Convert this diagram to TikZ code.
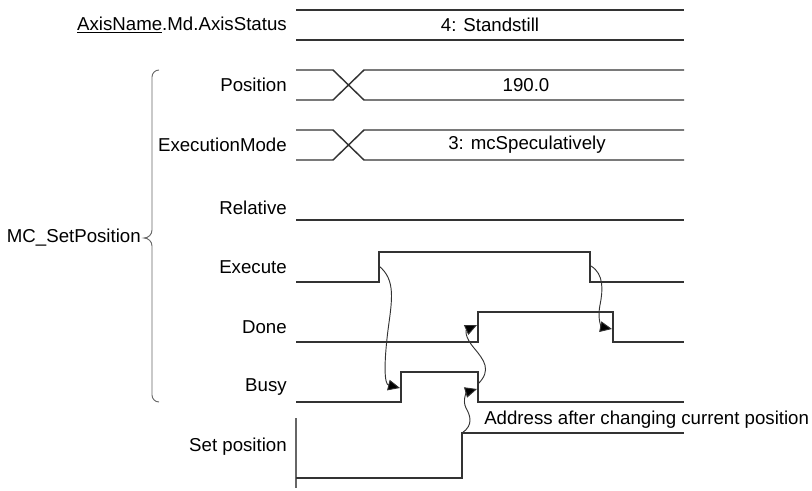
\documentclass[tikz,border=0pt]{standalone}
\usepackage{fontspec}
\setmainfont{Liberation Sans}
\usetikzlibrary{arrows.meta}
\definecolor{sig}{HTML}{333333}
\definecolor{gry}{HTML}{666666}
\begin{document}
\begin{tikzpicture}[x=0.75pt,y=-0.75pt,
  every node/.style={font=\fontsize{14}{17}\selectfont, text=black, inner sep=0pt},
  lbl/.style={anchor=east},
  sigline/.style={draw=sig, line width=1.1pt},
  evarrow/.style={draw=sig, line width=0.7pt, -{Triangle[length=9pt,width=8pt,fill=black]}}]
\useasboundingbox (0,0) rectangle (812,490);
% labels
\node[lbl] (lax) at (287,25) {\underline{AxisName}.Md.AxisStatus};
\node[lbl] (lpos) at (287,85) {Position};
\node[lbl] (lmode) at (287,145) {ExecutionMode};
\node[lbl] (lrel) at (287,208) {Relative};
\node[lbl] (lexe) at (287,267) {Execute};
\node[lbl] (ldone) at (287,327) {Done};
\node[lbl] (lbusy) at (287,387) {Busy};
\node[lbl] (lset) at (287,447) {Set position};
\node[lbl] (lmc) at (141,238) {MC\_SetPosition};
% brace
\draw[gry, line width=0.7pt] (159,70) to[out=180,in=90] (152,77) -- (152,230)
  to[out=-90,in=0] (144,238) to[out=0,in=90] (152,246) -- (152,395)
  to[out=-90,in=180] (159,402);
% AxisStatus
\draw[sigline] (296,10) -- (684,10);
\draw[sigline] (296,40) -- (684,40);
\node (vax) at (490,25) {4: Standstill};
% Position
\draw[sigline] (296,70) -- (333,70) -- (364,100) -- (684,100);
\draw[sigline] (296,100) -- (333,100) -- (364,70) -- (684,70);
\node (vpos) at (526,85) {190.0};
% ExecutionMode
\draw[sigline] (296,130) -- (333,130) -- (364,160) -- (684,160);
\draw[sigline] (296,160) -- (333,160) -- (364,130) -- (684,130);
\node (vmode) at (527,145) {3: mcSpeculatively};
% Relative
\draw[sigline] (296,220) -- (684,220);
% Execute
\draw[sigline] (296,282) -- (379,282) -- (379,252) -- (590,252) -- (590,282) -- (684,282);
% Done
\draw[sigline] (296,342) -- (478,342) -- (478,312) -- (613,312) -- (613,342) -- (684,342);
% Busy
\draw[sigline] (296,402) -- (401,402) -- (401,372) -- (478,372) -- (478,402) -- (684,402);
% Set position
\draw[gry, line width=0.9pt] (296,418) -- (296,488);
\draw[sigline] (296,478) -- (462,478) -- (462,433) -- (684,433);
\node[anchor=west] (vset) at (484,420) {Address after changing current position};
% event coordinates
\coordinate (exeR) at (379,266);
\coordinate (busyR) at (400,388);
\coordinate (busyF) at (478,384);
\coordinate (doneR) at (477,325);
\coordinate (setR) at (462,433);
\coordinate (busyF2) at (477,389);
\coordinate (exeF) at (591,266);
\coordinate (doneF) at (612,329);
% event arrows
\draw[evarrow] (exeR) .. controls (396,280) and (392,300) .. (388,330)
  .. controls (384,362) and (384,384) .. (busyR);
\draw[evarrow] (busyF) .. controls (492,370) and (484,360) .. (474,348)
  .. controls (464,336) and (466,330) .. (doneR);
\draw[evarrow] (setR) .. controls (474,425) and (470,415) .. (466,408)
  .. controls (462,400) and (467,392) .. (busyF2);
\draw[evarrow] (exeF) .. controls (604,274) and (603,290) .. (600,305)
  .. controls (597,320) and (602,327) .. (doneF);
\end{tikzpicture}
\end{document}
